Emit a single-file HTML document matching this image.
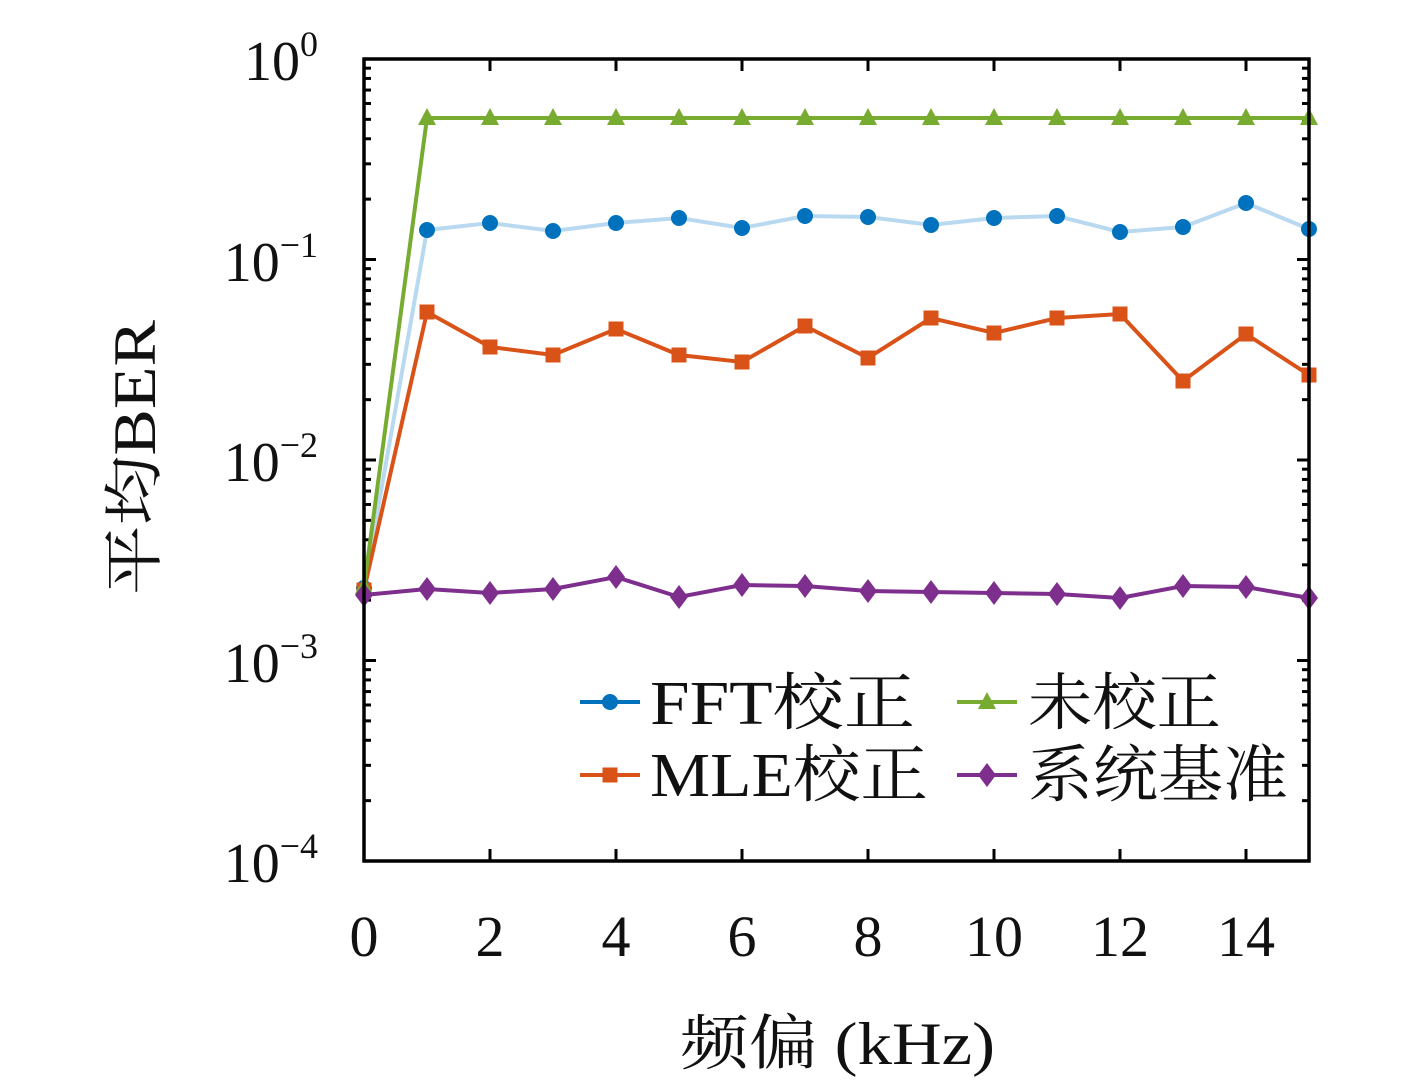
<!DOCTYPE html>
<html><head><meta charset="utf-8"><style>
html,body{margin:0;padding:0;background:#fff;}
svg text{font-family:"Liberation Serif","Noto Serif CJK SC",serif;fill:#111;}
</style></head><body>
<svg id="s" width="1417" height="1083" viewBox="0 0 1417 1083" xmlns="http://www.w3.org/2000/svg">
<rect width="1417" height="1083" fill="#fff"/>
<g id="ticks" stroke="#000" stroke-width="3"></g>
<g id="data"></g>
<rect x="364" y="59" width="945" height="802" fill="none" stroke="#000" stroke-width="3.5"/>
<g font-size="56" text-anchor="end">
<text x="318" y="80">10<tspan font-size="36" dy="-24">0</tspan></text>
<text x="318" y="281">10<tspan font-size="36" dy="-24">−1</tspan></text>
<text x="318" y="481">10<tspan font-size="36" dy="-24">−2</tspan></text>
<text x="318" y="682">10<tspan font-size="36" dy="-24">−3</tspan></text>
<text x="318" y="882">10<tspan font-size="36" dy="-24">−4</tspan></text>
</g>
<g font-size="58" text-anchor="middle">
<text x="364" y="956">0</text><text x="490" y="956">2</text><text x="616" y="956">4</text><text x="742" y="956">6</text><text x="868" y="956">8</text><text x="994" y="956">10</text><text x="1120" y="956">12</text><text x="1246" y="956">14</text>
</g>
<text x="680" y="1064" font-size="60" textLength="315" lengthAdjust="spacingAndGlyphs">频偏 (kHz)</text>
<text transform="translate(155,595) rotate(-90)" font-size="60" textLength="275" lengthAdjust="spacingAndGlyphs">平均BER</text>
<g font-size="62">
<text x="650" y="724" textLength="265" lengthAdjust="spacingAndGlyphs">FFT校正</text>
<text x="650" y="796" textLength="278" lengthAdjust="spacingAndGlyphs">MLE校正</text>
<text x="1028" y="724" textLength="193" lengthAdjust="spacingAndGlyphs">未校正</text>
<text x="1028" y="796" textLength="260" lengthAdjust="spacingAndGlyphs">系统基准</text>
</g>
</svg>
<script>
var NS="http://www.w3.org/2000/svg";
function el(p,t,a){var e=document.createElementNS(NS,t);for(var k in a)e.setAttribute(k,a[k]);p.appendChild(e);return e;}
var T=document.getElementById("ticks"),D=document.getElementById("data");
var L=364,R=1309,Tp=59,B=861,dec=200.5;
for(var d=0;d<4;d++){var base=B-d*dec;
 for(var k=1;k<=9;k++){var y=base-Math.log10(k)*dec;var len=k==1?12:7;
  el(T,"line",{x1:L,y1:y,x2:L+len,y2:y});el(T,"line",{x1:R,y1:y,x2:R-len,y2:y});}}
for(var x=0;x<=14;x+=2){var px=L+x*63;el(T,"line",{x1:px,y1:B,x2:px,y2:B-12});el(T,"line",{x1:px,y1:Tp,x2:px,y2:Tp+12});}
var xs=[];for(var i=0;i<16;i++)xs.push(364+i*63);
var green=[587,118,118,118,118,118,118,118,118,118,118,118,118,118,118,118];
var blue=[588,230,223,231,223,218,228,216,217,225,218,216,232,227,203,229];
var orange=[590,312,347,355,329,355,362,326,358,318,333,318,314,381,334,375];
var purple=[595,589,593,589,577,597,585,586,591,592,593,594,598,586,587,598];
function pts(a){return a.map(function(y,i){return xs[i]+","+y}).join(" ");}
function marker(c,t,x,y){
 if(t=="o")el(D,"circle",{cx:x,cy:y,r:8,fill:c});
 else if(t=="s")el(D,"rect",{x:x-7.5,y:y-7.5,width:15,height:15,fill:c});
 else if(t=="^")el(D,"polygon",{points:(x)+","+(y-10)+" "+(x-9)+","+(y+7)+" "+(x+9)+","+(y+7),fill:c});
 else el(D,"polygon",{points:x+","+(y-12)+" "+(x+9)+","+y+" "+x+","+(y+12)+" "+(x-9)+","+y,fill:c});}
function series(a,lc,mc,t){el(D,"polyline",{points:pts(a),fill:"none",stroke:lc,"stroke-width":4});
 a.forEach(function(y,i){marker(mc,t,xs[i],y);});}
series(blue,"#b9d9f0","#0072bd","o");
series(orange,"#d95319","#d95319","s");
series(green,"#77ac30","#77ac30","^");
series(purple,"#7e2f8e","#7e2f8e","d");
function leg(x,y,lc,mc,t){el(D,"line",{x1:x,y1:y,x2:x+60,y2:y,stroke:lc,"stroke-width":4});marker(mc,t,x+30,y);}
leg(580,702,"#0072bd","#0072bd","o");
leg(580,775,"#d95319","#d95319","s");
leg(957,702,"#77ac30","#77ac30","^");
leg(957,775,"#7e2f8e","#7e2f8e","d");
</script>
</body></html>
